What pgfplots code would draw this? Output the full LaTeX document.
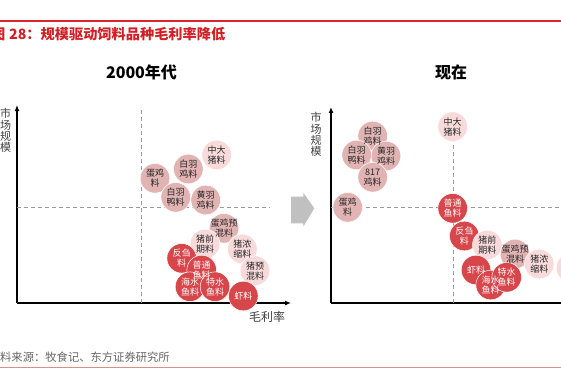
\documentclass[border=0pt]{standalone}
\usepackage{fontspec}
\setmainfont{Noto Sans CJK SC}
\usepackage{pgfplots}
\pgfplotsset{compat=1.18}
\usetikzlibrary{arrows.meta}
\definecolor{titlered}{HTML}{D21F26}
\definecolor{linered}{HTML}{D9262C}
\definecolor{footline}{HTML}{E08A8A}
\definecolor{medpink}{HTML}{E2B3B3}
\definecolor{lightpink}{HTML}{F8DADA}
\definecolor{bubred}{HTML}{D7464B}
\definecolor{dashgray}{HTML}{9A9A9A}
\definecolor{arrowgray}{HTML}{C0C0C0}
\pgfplotsset{
  bmed/.style={only marks, mark=*, mark size=14.8bp, mark options={fill=medpink, draw=white, line width=0.5bp}},
  blight/.style={only marks, mark=*, mark size=14.8bp, mark options={fill=lightpink, draw=white, line width=0.5bp}},
  bred/.style={only marks, mark=*, mark size=14.8bp, mark options={fill=bubred, draw=white, line width=0.5bp}},
  blab/.style={only marks, mark=none, point meta=explicit symbolic, nodes near coords,
    nodes near coords align=center,
    every node near coord/.append style={anchor=center, align=center, inner sep=0pt,
      font=\fontsize{9bp}{10.2bp}\selectfont, text=#1}},
  dline/.style={dashgray, line width=1.2bp, dash pattern=on 4bp off 3bp},
  myaxis/.style={scale only axis, anchor=south west, axis lines=left,
    xtick=\empty, ytick=\empty, xmin=0, ymin=0, clip=false,
    axis line style={line width=1.3bp, -{Latex[length=6bp,width=5bp]}}},
}
\begin{document}
\begin{tikzpicture}[x=1bp,y=1bp]
\useasboundingbox (0,0) rectangle (561,378);
% header
\draw[linered, line width=1.2bp] (0,357) -- (561,357);
\node[anchor=base east, text=titlered, font=\fontsize{14.2bp}{16bp}\selectfont\bfseries, inner sep=0pt] at (5.5,339) {图};
\node[anchor=base west, text=titlered, font=\fontsize{14.2bp}{16bp}\selectfont\bfseries, inner sep=0pt] at (9,339) {28：规模驱动饲料品种毛利率降低};
% footer
\node[anchor=base east, text=black!60, font=\fontsize{11.3bp}{13bp}\selectfont, inner sep=0pt] at (0,17) {资};
\node[anchor=base west, text=black!60, font=\fontsize{11.3bp}{13bp}\selectfont, inner sep=0pt] at (0,17) {料来源：牧食记、东方证券研究所};
\draw[footline, line width=1bp] (0,10.3) -- (561,10.3);
% panel titles
\node[font=\fontsize{16bp}{18bp}\selectfont\bfseries] at (141.5,306) {2000年代};
\node[font=\fontsize{16bp}{18bp}\selectfont\bfseries] at (451,306) {现在};
% axis labels
\node[align=center, text=black!75, font=\fontsize{11bp}{11.3bp}\selectfont, inner sep=0pt] at (5.5,247.5) {市\\场\\规\\模};
\node[align=center, text=black!75, font=\fontsize{11bp}{11.3bp}\selectfont, inner sep=0pt] at (316,243.5) {市\\场\\规\\模};
\node[text=black!75, font=\fontsize{12bp}{14bp}\selectfont, inner sep=0pt] at (267,61) {毛利率};
% block arrow
\fill[arrowgray] (291,181.3) -- (303.3,181.3) -- (303.3,185.3) -- (314.3,169.7) -- (303.3,151.3) -- (303.3,154.7) -- (291,154.7) -- cycle;

% ===== left panel =====
\begin{axis}[myaxis, at={(17,75)}, width=274bp, height=198bp, xmax=274, ymax=198]
\addplot[dline] coordinates {(124.7,0) (124.7,193)};
\addplot[dline] coordinates {(0,95.7) (253,95.7)};
\addplot[bmed] coordinates {(138,124.7) (171.3,134) (158.7,105.7) (188.7,103) (207,74.7)};
\addplot[blight] coordinates {(199.7,148) (188,59) (225.3,54) (238,32.3)};
\addplot[bred] coordinates {(164.7,44.7) (184.7,33) (173,16.3) (198,16.3) (226.3,7)};
\addplot[blab=black!85] coordinates {
 (199.7,148) [中大\\猪料]
 (171.3,134) [白羽\\鸡料]
 (138,124.7) [蛋鸡\\料]
 (158.7,105.7) [白羽\\鸭料]
 (188.7,103) [黄羽\\鸡料]
 (207,74.7) [蛋鸡预\\混料]
 (188,59) [猪前\\期料]
 (225.3,54) [猪浓\\缩料]
 (238,32.3) [猪预\\混料]
};
\addplot[blab=white] coordinates {
 (164.7,44.7) [反刍\\料]
 (184.7,33) [普通\\鱼料]
 (173,16.3) [海水\\鱼料]
 (198,16.3) [特水\\鱼料]
 (226.3,7) [虾料]
};
\end{axis}

% ===== right panel =====
\begin{axis}[myaxis, at={(331,75)}, width=269bp, height=196bp, xmax=269, ymax=196]
\addplot[dline] coordinates {(122.5,0) (122.5,176)};
\addplot[dline] coordinates {(0,95.3) (269,95.3)};
\addplot[bmed] coordinates {(41.7,167) (25.7,148) (55,147) (41.7,125.7) (16.7,95.7)};
\addplot[blight] coordinates {(121.7,176.3)};
\addplot[bred] coordinates {(121.7,94.7) (133.3,67)};
\addplot[blight] coordinates {(156.3,58)};
\addplot[bmed] coordinates {(184,49)};
\addplot[blight] coordinates {(208.3,39) (240,35)};
\addplot[bred] coordinates {(145,33) (159.7,18) (175.7,25.7)};
\addplot[blab=black!85] coordinates {
 (121.7,176.3) [中大\\猪料]
 (41.7,167) [白羽\\鸡料]
 (25.7,148) [白羽\\鸭料]
 (55,147) [黄羽\\鸡料]
 (41.7,125.7) [817\\鸡料]
 (16.7,95.7) [蛋鸡\\料]
 (156.3,58) [猪前\\期料]
 (184,49) [蛋鸡预\\混料]
 (208.3,39) [猪浓\\缩料]
 (240,35) [猪预\\混料]
};
\addplot[blab=white] coordinates {
 (121.7,94.7) [普通\\鱼料]
 (133.3,67) [反刍\\料]
 (145,33) [虾料]
 (159.7,18) [海水\\鱼料]
 (175.7,25.7) [特水\\鱼料]
};
\end{axis}
\end{tikzpicture}
\end{document}
